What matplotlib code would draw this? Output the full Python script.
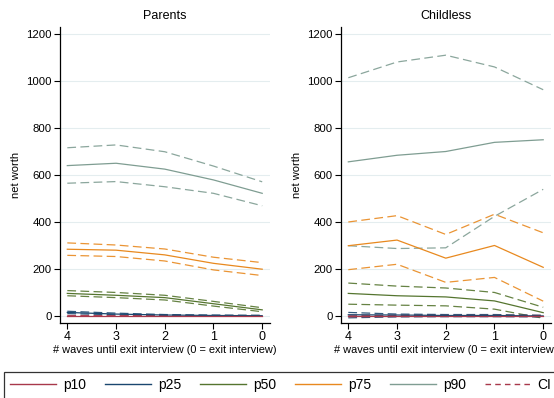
import matplotlib
matplotlib.use("Agg")
import matplotlib.pyplot as plt
from matplotlib.lines import Line2D

plt.rcParams['font.family'] = ['Liberation Sans', 'DejaVu Sans']

waves = [4, 3, 2, 1, 0]

# Parents: point estimates and confidence bounds by percentile
par_p10 = [0, 0, 0, 0, 0]
par_p10_hi = [2, 1, 1, 1, 1]
par_p10_lo = [-2, -1, -1, -1, -1]
par_p25 = [15, 8, 4, 2, 1]
par_p25_hi = [20, 12, 6, 4, 3]
par_p25_lo = [10, 5, 2, 1, 0]
par_p50 = [96, 88, 78, 52, 26]
par_p50_hi = [108, 100, 88, 62, 35]
par_p50_lo = [86, 78, 68, 42, 18]
par_p75 = [284, 280, 260, 224, 199]
par_p75_hi = [311, 302, 285, 250, 227]
par_p75_lo = [258, 253, 234, 196, 172]
par_p90 = [640, 650, 625, 579, 522]
par_p90_hi = [716, 728, 699, 638, 571]
par_p90_lo = [565, 572, 550, 522, 469]

# Childless
chl_p10 = [0, 0, 0, 0, 0]
chl_p10_hi = [3, 2, 2, 2, 2]
chl_p10_lo = [-3, -2, -2, -2, -2]
chl_p25 = [5, 4, 2, 2, 0]
chl_p25_hi = [15, 8, 6, 6, 3]
chl_p25_lo = [-8, -4, -3, -3, -4]
chl_p50 = [96, 86, 81, 64, 14]
chl_p50_hi = [140, 127, 119, 100, 37]
chl_p50_lo = [50, 46, 43, 29, -10]
chl_p75 = [299, 323, 246, 300, 207]
chl_p75_hi = [400, 427, 347, 433, 354]
chl_p75_lo = [197, 220, 143, 164, 63]
chl_p90 = [656, 684, 700, 739, 750]
chl_p90_hi = [1014, 1081, 1110, 1060, 963]
chl_p90_lo = [299, 287, 290, 424, 539]

labels = ['p10', 'p25', 'p50', 'p75', 'p90']
colors = ['#A8384B', '#1A476F', '#55752F', '#E8891F', '#7F9D92']
yticks = [0, 200, 400, 600, 800, 1000, 1200]

panels = [
    ('Parents', [(par_p10, par_p10_lo, par_p10_hi), (par_p25, par_p25_lo, par_p25_hi),
                 (par_p50, par_p50_lo, par_p50_hi), (par_p75, par_p75_lo, par_p75_hi),
                 (par_p90, par_p90_lo, par_p90_hi)]),
    ('Childless', [(chl_p10, chl_p10_lo, chl_p10_hi), (chl_p25, chl_p25_lo, chl_p25_hi),
                   (chl_p50, chl_p50_lo, chl_p50_hi), (chl_p75, chl_p75_lo, chl_p75_hi),
                   (chl_p90, chl_p90_lo, chl_p90_hi)]),
]

fig = plt.figure(figsize=(5.54, 3.98), dpi=100)
lefts = [60 / 554, 341 / 554]
for (title, series), left in zip(panels, lefts):
    ax = fig.add_axes([left, 1 - 323 / 398, 210 / 554, 296 / 398])
    for y in yticks:
        ax.axhline(y, color='#E4EDEF', lw=0.8, zorder=0)
    order = [4, 3, 2, 1, 0]
    for i in order:
        est, lo, hi = series[i]
        c = colors[i]
        ax.plot(waves, hi, color=c, lw=0.9, dashes=(7, 3.5), alpha=0.9, zorder=2)
        ax.plot(waves, lo, color=c, lw=0.9, dashes=(7, 3.5), alpha=0.9, zorder=2)
        ax.plot(waves, est, color=c, lw=0.9, zorder=3)
    ax.set_xlim(4.15, -0.16)
    ax.set_ylim(-30, 1230)
    ax.set_xticks(waves)
    ax.set_yticks(yticks)
    ax.set_yticklabels([str(v) for v in yticks], fontsize=8.2)
    ax.set_xticklabels([str(v) for v in waves], fontsize=9)
    ax.tick_params(axis='both', length=4, width=0.8, pad=2, color='black')
    for s in ['top', 'right']:
        ax.spines[s].set_visible(False)
    for s in ['left', 'bottom']:
        ax.spines[s].set_linewidth(0.9)
    ax.set_title(title, fontsize=9, pad=6)
    ax.set_ylabel('net worth', fontsize=8, labelpad=4)
    ax.set_xlabel('# waves until exit interview (0 = exit interview)', fontsize=7.9, labelpad=1)

handles = [Line2D([], [], color=c, lw=1.0) for c in colors]
handles.append(Line2D([], [], color=colors[0], lw=1.0, dashes=(4, 3)))
leg = fig.legend(handles, labels + ['CI'], loc='upper left',
                 bbox_to_anchor=(4 / 554, 1 - 372 / 398), ncol=6, fontsize=10,
                 frameon=True, fancybox=False, handlelength=3.3, handletextpad=0.5,
                 columnspacing=1.37, borderpad=0.45, borderaxespad=0)
leg.get_frame().set_edgecolor('black')
leg.get_frame().set_linewidth(0.9)

fig.savefig('out.png', dpi=100)
